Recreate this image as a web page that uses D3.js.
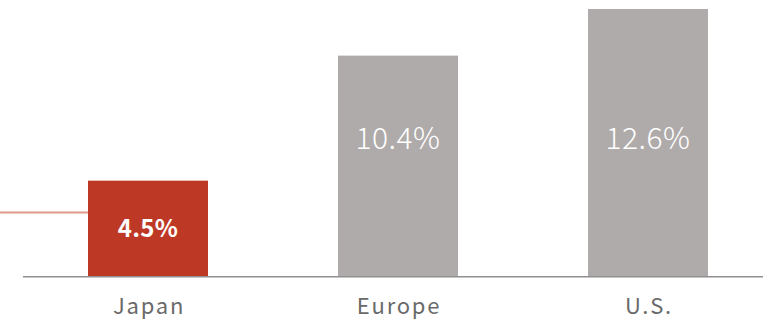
<!DOCTYPE html>
<html>
<head>
<meta charset="utf-8">
<script src="https://cdn.jsdelivr.net/npm/d3@7/dist/d3.min.js"></script>
<style>
  html, body { margin: 0; padding: 0; background: #ffffff; }
  svg { display: block; }
  text { font-family: "Noto Sans CJK JP", "Noto Sans", sans-serif; }
</style>
</head>
<body>
<div id="chart"></div>
<script>
// Regions and their rates (%)
const categories = ["Japan", "Europe", "U.S."];
const values = [4.5, 10.4, 12.6];
const valueLabels = ["4.5%", "10.4%", "12.6%"];
const highlighted = ["Japan"];
// Reference level marked by the thin line on the left (%)
const referenceLevel = [3.0];

const width = 763, height = 323;
const margin = { top: 9, bottom: 47, left: 23 };

const svg = d3.select("#chart").append("svg")
  .attr("width", width)
  .attr("height", height);

const x = d3.scaleBand()
  .domain(categories)
  .range([margin.left, margin.left + 750])
  .paddingInner(0.52)
  .paddingOuter(0.26);

const y = d3.scaleLinear()
  .domain([0, d3.max(values)])
  .range([height - margin.bottom, margin.top]);

const data = categories.map((c, i) => ({
  name: c, value: values[i], label: valueLabels[i], hi: highlighted.includes(c)
}));

const RED = "#be3826";
const GREY = "#afabaa";

// reference line running into the highlighted bar
svg.append("line")
  .attr("x1", 0)
  .attr("x2", x(highlighted[0]))
  .attr("y1", y(referenceLevel[0]))
  .attr("y2", y(referenceLevel[0]))
  .attr("stroke", "#dc998c")
  .attr("stroke-width", 2);

// bars
svg.selectAll("rect.bar")
  .data(data)
  .join("rect")
  .attr("class", "bar")
  .attr("x", d => x(d.name))
  .attr("width", x.bandwidth())
  .attr("y", d => y(d.value))
  .attr("height", d => y(0) - y(d.value))
  .attr("fill", d => d.hi ? RED : GREY);

// baseline
svg.append("line")
  .attr("x1", margin.left)
  .attr("x2", width)
  .attr("y1", y(0) + 0.75)
  .attr("y2", y(0) + 0.75)
  .attr("stroke", "#8f8f8f")
  .attr("stroke-width", 1.5);

// value labels: highlighted bar gets a bold label centred in the bar,
// the others share a common level above the baseline
const greyLevel = (y(0) + y(d3.max(values))) / 2 - 4;
svg.selectAll("text.value")
  .data(data)
  .join("text")
  .attr("class", "value")
  .attr("x", d => x(d.name) + x.bandwidth() / 2)
  .attr("y", d => d.hi ? (y(d.value) + y(0)) / 2 : greyLevel)
  .attr("dy", "0.36em")
  .attr("text-anchor", "middle")
  .attr("fill", "#ffffff")
  .attr("font-size", d => d.hi ? 24 : 30)
  .attr("font-weight", d => d.hi ? 700 : 300)
  .attr("letter-spacing", d => d.hi ? 0.3 : 0.5)
  .text(d => d.label);

// category axis labels
const xAxis = d3.axisBottom(x).tickSize(0).tickPadding(0);
const gx = svg.append("g")
  .attr("transform", `translate(0,${y(0)})`)
  .call(xAxis);
gx.select(".domain").remove();
gx.selectAll("text")
  .attr("y", 38)
  .attr("dy", 0)
  .attr("dx", 1)
  .attr("fill", "#6a6a6a")
  .attr("font-size", 22)
  .attr("letter-spacing", 1.8)
  .style("font-family", "\"Noto Sans CJK JP\", \"Noto Sans\", sans-serif");
</script>
</body>
</html>
